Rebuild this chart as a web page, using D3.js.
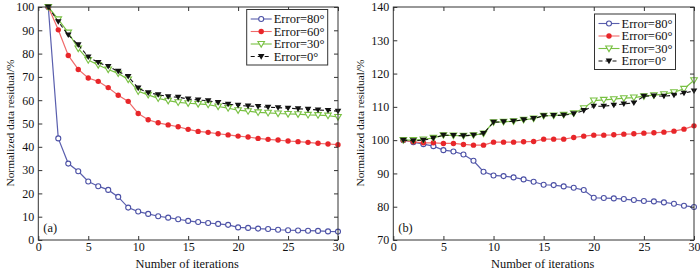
<!DOCTYPE html>
<html><head><meta charset="utf-8">
<script src="https://cdn.jsdelivr.net/npm/d3@7"></script>
<style>body{margin:0;background:#fff}svg{display:block}text{font-family:"Liberation Serif","Times New Roman",serif;fill:#111}</style>
</head><body><svg id="c" width="700" height="272"></svg>
<script>
const iterations = d3.range(1, 31);
const seriesNames = ["Error=80°", "Error=60°", "Error=30°", "Error=0°"];
const xTicks = [0, 5, 10, 15, 20, 25, 30];
const yTicksA = [0, 10, 20, 30, 40, 50, 60, 70, 80, 90, 100];
const yTicksB = [70, 80, 90, 100, 110, 120, 130, 140];

const a80 = [100, 43.6, 32.8, 29.5, 25.1, 23.1, 21.5, 18.5, 13.9, 12.2, 11.2, 10.2, 9.6, 8.9, 8.2, 7.7, 7.3, 6.9, 6.5, 5.4, 5.2, 4.9, 4.7, 4.4, 4.2, 4.1, 4.0, 3.9, 3.7, 3.6];
const a60 = [100, 90.2, 79.2, 73.2, 69.5, 68.1, 65.4, 62.1, 59.5, 54.3, 51.6, 50.3, 49.4, 48.6, 47.5, 46.6, 46.2, 45.6, 45.1, 44.6, 44.2, 43.6, 43.2, 42.9, 42.5, 42.2, 41.9, 41.5, 41.2, 40.9];
const a30 = [100, 94.7, 89.0, 82.2, 77.2, 75.1, 73.2, 71.5, 68.9, 63.8, 62.3, 60.8, 59.8, 59.1, 58.7, 58.4, 58.1, 57.3, 56.6, 55.7, 55.3, 54.8, 54.6, 54.3, 54.1, 54.0, 53.7, 53.6, 53.4, 52.8];
const a0  = [100, 93.7, 88.0, 83.8, 78.6, 76.2, 74.5, 72.4, 70.2, 65.2, 63.2, 62.4, 61.5, 61.3, 60.5, 60.1, 59.8, 59.0, 58.3, 57.8, 57.5, 57.3, 57.0, 56.8, 56.6, 56.3, 56.1, 55.8, 55.6, 55.3];

const b80 = [100, 99.4, 98.8, 98.2, 97.0, 96.6, 95.7, 93.8, 90.5, 89.4, 89.2, 88.8, 88.2, 87.5, 86.6, 86.5, 86.1, 85.7, 85.0, 82.7, 82.6, 82.5, 82.3, 82.0, 81.7, 81.6, 81.3, 80.9, 80.3, 79.9];
const b60 = [100, 99.5, 99.2, 99.2, 99.0, 99.0, 98.7, 98.5, 98.5, 99.4, 99.4, 99.4, 99.5, 99.6, 100.3, 100.3, 100.3, 100.8, 101.2, 101.5, 101.5, 101.6, 101.8, 101.9, 102.1, 102.2, 102.4, 102.7, 103.3, 104.3];
const b30 = [100, 100.0, 100.2, 100.7, 101.5, 101.4, 101.3, 101.5, 102.0, 105.4, 105.5, 105.7, 106.1, 106.5, 107.3, 107.4, 107.6, 108.1, 109.6, 111.9, 112.1, 112.3, 112.6, 112.8, 113.2, 113.5, 113.8, 114.4, 115.4, 118.0];
const b0  = [100, 99.8, 100.0, 100.6, 101.5, 101.4, 101.3, 101.5, 102.0, 105.4, 105.5, 105.7, 106.1, 106.5, 107.3, 107.4, 107.5, 107.9, 108.9, 110.2, 110.2, 110.5, 110.9, 111.2, 113.2, 113.3, 113.2, 113.5, 114.1, 114.8];

const colors = ["#4b50a5", "#e8262a", "#79c143", "#111111"];
const lineColors = ["#5a5fae", "#f06a6a", "#79c143", "#111111"];
const svg = d3.select("#c");
const frameColor = "#333";

function drawMarker(g, i, x, y) {
  if (i === 0) {
    g.append("circle").attr("cx", x).attr("cy", y).attr("r", 2.5).attr("fill", "#fff").attr("stroke", colors[0]).attr("stroke-width", 1.1);
  } else if (i === 1) {
    g.append("circle").attr("cx", x).attr("cy", y).attr("r", 2.7).attr("fill", colors[1]);
  } else {
    const s = 3.3;
    const p = `M${x - s},${y - s * 0.75} L${x + s},${y - s * 0.75} L${x},${y + s * 0.95} Z`;
    if (i === 2) g.append("path").attr("d", p).attr("fill", "#fff").attr("stroke", colors[2]).attr("stroke-width", 1.1);
    else g.append("path").attr("d", p).attr("fill", colors[3]);
  }
}

function panel(opt) {
  const g = svg.append("g");
  const x = d3.scaleLinear().domain([0, 30]).range([opt.x0, opt.x1]);
  const y = d3.scaleLinear().domain(opt.yDomain).range([240, 7]);
  opt.series.forEach((vals, i) => {
    const line = d3.line().x((d, k) => x(iterations[k])).y(d => y(d));
    g.append("path").datum(vals).attr("d", line).attr("fill", "none")
      .attr("stroke", lineColors[i]).attr("stroke-width", i === 3 ? 1.1 : 1.2)
      .attr("stroke-dasharray", i === 3 ? "4,3" : null);
    vals.forEach((v, k) => drawMarker(g, i, x(iterations[k]), y(v)));
  });
  g.append("rect").attr("x", opt.x0).attr("y", 7).attr("width", opt.x1 - opt.x0).attr("height", 233)
    .attr("fill", "none").attr("stroke", frameColor).attr("stroke-width", 1);
  const ax = g.append("g").attr("transform", "translate(0,240)")
    .call(d3.axisBottom(x).tickValues(xTicks).tickSize(-4).tickPadding(4).tickFormat(d3.format("d")));
  ax.select(".domain").remove();
  const axTop = g.append("g").attr("transform", "translate(0,7)")
    .call(d3.axisTop(x).tickValues(xTicks).tickSize(-4).tickFormat(""));
  axTop.select(".domain").remove();
  const ay = g.append("g").attr("transform", `translate(${opt.x0},0)`)
    .call(d3.axisLeft(y).tickValues(opt.yTicks).tickSize(-4).tickPadding(4).tickFormat(d3.format("d")));
  ay.select(".domain").remove();
  const ayR = g.append("g").attr("transform", `translate(${opt.x1},0)`)
    .call(d3.axisRight(y).tickValues(opt.yTicks).tickSize(-4).tickFormat(""));
  ayR.select(".domain").remove();
  g.selectAll(".tick line").attr("stroke", frameColor);
  g.selectAll(".tick text").style("font-family", '"Liberation Serif",serif').style("font-size", "12px").attr("fill", "#111");
  ax.selectAll(".tick text").attr("dy", "0.6em");
  g.append("text").attr("x", (opt.x0 + opt.x1) / 2 - 1).attr("y", 268).attr("text-anchor", "middle")
    .style("font-size", "12.4px").text("Number of iterations");
  g.append("text").attr("transform", `translate(${opt.yTitleX},123) rotate(-90)`).attr("text-anchor", "middle")
    .attr("dy", "0.35em").style("font-size", "11.4px").text("Normalized data residual/%");
  g.append("text").attr("x", opt.x0 + 5).attr("y", 232).style("font-size", "12.4px").text(opt.label);
  const lg = g.append("g").attr("transform", `translate(${opt.lx},${opt.ly})`);
  lg.append("rect").attr("x", 0).attr("y", 0).attr("width", 81).attr("height", 55.5)
    .attr("fill", "#fff").attr("stroke", "#333").attr("stroke-width", 1);
  seriesNames.forEach((name, i) => {
    const yy = 9.5 + i * 12.5;
    lg.append("line").attr("x1", 4).attr("x2", 25).attr("y1", yy).attr("y2", yy)
      .attr("stroke", lineColors[i]).attr("stroke-width", 1.1).attr("stroke-dasharray", i === 3 ? "4,3" : null);
    drawMarker(lg, i, 14.5, yy);
    lg.append("text").attr("x", 27).attr("y", yy).attr("dy", "0.35em").style("font-size", "12.5px").text(name);
  });
}

panel({x0: 38.3, x1: 338, yDomain: [0, 100], yTicks: yTicksA, series: [a80, a60, a30, a0], yTitleX: 10, label: "(a)", lx: 246.7, ly: 9.5});
panel({x0: 393.3, x1: 694, yDomain: [70, 140], yTicks: yTicksB, series: [b80, b60, b30, b0], yTitleX: 360, label: "(b)", lx: 594.5, ly: 14});
</script></body></html>
